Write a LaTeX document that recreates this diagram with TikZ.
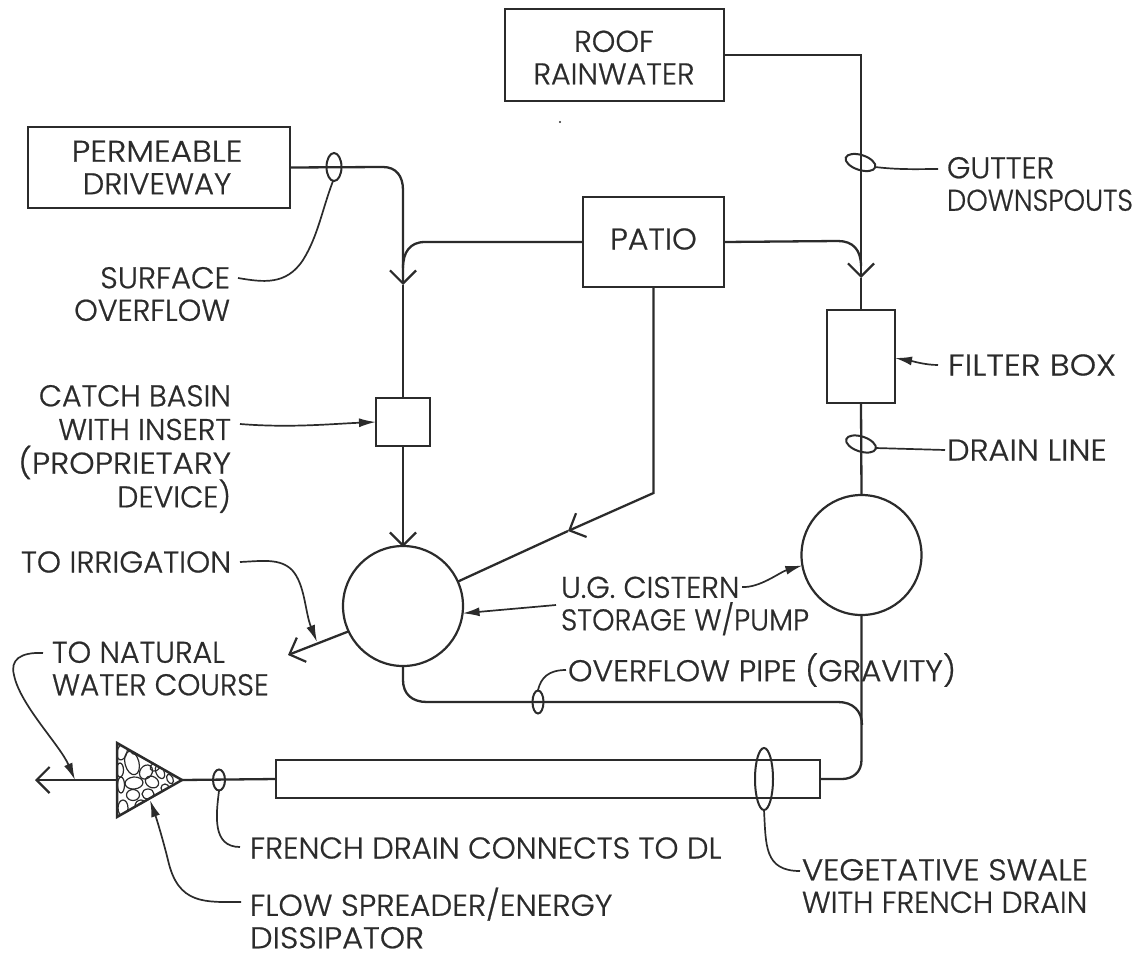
\documentclass[tikz,border=0pt]{standalone}
\usepackage{fontspec}
\usepackage{graphicx}
\setmainfont{Poppins Light}[BoldFont=*,BoldFeatures={FakeBold=0.7}]
\usetikzlibrary{arrows.meta}
\definecolor{ink}{HTML}{2B2B2B}
\newcommand{\sx}[2]{\scalebox{#1}[1]{#2}}
\tikzset{
  x=1pt,y=-1pt,
  every node/.style={inner sep=0pt,outer sep=0pt,text=ink},
  boxnode/.style={draw=ink,line width=2.3pt,rectangle},
  tank/.style={draw=ink,line width=2.2pt,circle,minimum size=120pt},
  pipe/.style={draw=ink,line width=2.3pt},
  thin pipe/.style={draw=ink,line width=1.8pt},
  leader/.style={draw=ink,line width=1.7pt},
  oval/.style={draw=ink,line width=2pt},
  opentip/.style={-{Straight Barb[length=13pt,width=26pt,line width=2.2pt]}},
  solidtip/.style={-{Latex[length=17pt,width=9pt]}},
  txt/.style={font=\fontsize{30}{32.5}\selectfont\bfseries},
  lbl/.style={txt,align=left,anchor=west},
  lblr/.style={txt,align=right,anchor=east},
  lblc/.style={txt,align=center},
}
\begin{document}
\begin{tikzpicture}
\useasboundingbox (0,0) rectangle (1143,961);
% boxes
\node[boxnode,minimum width=219pt,minimum height=92pt] (roof) at (614.5,55) {};
\node[boxnode,minimum width=262pt,minimum height=81pt] (perm) at (159,167.5) {};
\node[boxnode,minimum width=141pt,minimum height=90pt] (patio) at (653.5,242) {};
\node[boxnode,minimum width=68pt,minimum height=93pt] (filter) at (861,356.5) {};
\node[boxnode,minimum width=54pt,minimum height=48pt] (catch) at (403,422) {};
\node[boxnode,minimum width=544pt,minimum height=38pt] (swale) at (548,779) {};
\node[tank] (cisL) at (403,606) {};
\node[tank] (cisR) at (861.5,555) {};
% box texts
\node[lblc] (troof) at (614,57.5) {ROOF\\RAINWATER};
\node[lblc] (tperm) at (157,167.5) {\sx{1.1}{PERMEABLE}\\\sx{1.02}{DRIVEWAY}};
\node[lblc] (tpatio) at (653.5,239) {\sx{1.05}{PATIO}};
% junction coordinates
\coordinate (jL) at (403,285);
\coordinate (jR) at (861,278);
\coordinate (jD) at (568,531);
\coordinate (irr) at (288,655);
\coordinate (spreadL) at (117,780);
\coordinate (spreadT) at (117,743);
\coordinate (spreadB) at (117,817);
\coordinate (spreadR) at (182,780);
\coordinate (outlet) at (35,780);
\coordinate (ovfl) at (862,725);
% pipes
\draw[pipe,opentip] (perm.east) -- (383,167) .. controls (396,167) and (403,176) .. (403,190) -- (jL);
\draw[pipe] (jL) -- (catch.north);
\draw[pipe] (patio.west) -- (425,242) .. controls (410,242) and (403,252) .. (403,268);
\draw[thin pipe,opentip] (catch.south) -- (403,547);
\draw[pipe,opentip] (roof.east |- 0,55) -- (861,55) -- (jR);
\draw[pipe] (jR) -- (filter.north);
\draw[pipe] (patio.east) -- (838,241) .. controls (853,241) and (861,250) .. (861,266);
\draw[pipe] (filter.south) -- (cisR.north);
\draw[pipe,opentip] (patio.south) -- (653.5,493) -- (jD);
\draw[pipe] (jD) -- (cisL.24);
\draw[pipe,opentip] (cisL.205) -- (irr);
\draw[pipe] (cisL.south) -- (403,680) .. controls (403,694) and (412,702) .. (427,702) -- (838,702) .. controls (853,702) and (862,711) .. (ovfl);
\draw[pipe] (cisR.south) -- (861.5,760) .. controls (861.5,772) and (853,779) .. (842,779) -- (swale.east);
% spreader
\begin{scope}
\clip (spreadT) -- (spreadR) -- (spreadB) -- cycle;
\foreach \cx/\cy/\rx/\ry/\rot in {132/763/7/12/15, 146/772/6/7.5/-35, 134/783/9/6/5, 152/782/7/5.5/-30, 133/795/6.5/5.5/0, 148/794/6/5/0, 123/808/5/8/0, 122/752/5/8/-15, 120/770/3.5/7/0, 121/785/3.5/8/0, 160/772/4/7/25, 170/779/3/5/25, 165/788/4/4/0, 141/806/6/6/0, 155/767/5/4/25, 138/748/8/6/30}
  \draw[ink,line width=1.2pt,rotate around={\rot:(\cx,\cy)}] (\cx,\cy) ellipse [x radius=\rx,y radius=\ry];
\end{scope}
\draw[pipe,line width=2.5pt,line join=miter] (spreadT) -- (spreadR) -- (spreadB) -- cycle;
\draw[pipe,opentip] (spreadL) -- (outlet);
\draw[pipe] (spreadR) -- (swale.west);
% ovals
\draw[oval] (334,167) ellipse [x radius=7.5,y radius=14];
\draw[oval,rotate around={-18:(860.5,162.5)}] (860.5,162.5) ellipse [x radius=15.5,y radius=7.5];
\draw[oval,rotate around={-18:(861,444)}] (861,444) ellipse [x radius=15.5,y radius=7.5];
\draw[oval] (538,702) ellipse [x radius=5.5,y radius=11.5];
\draw[oval] (219,780) ellipse [x radius=6,y radius=10.5];
\draw[oval] (764,779) ellipse [x radius=9,y radius=31];
\fill[ink] (560,122) circle (1.2);
% labels
\node[lbl] (tgutter) at (947,184) {GUTTER\\\sx{0.91}{DOWNSPOUTS}};
\node[lbl] (tfilter) at (948,365) {\sx{1.12}{FILTER BOX}};
\node[lbl] (tdrain) at (947,450) {\sx{1.07}{DRAIN LINE}};
\node[lblr] (tsurf) at (230,294) {\sx{1.02}{SURFACE}\\OVERFLOW};
\node[lblr,font=\fontsize{30}{33.7}\selectfont\bfseries] (tcatch) at (231,449) {CATCH BASIN\\WITH INSERT\\\sx{1.08}{(PROPRIETARY}\\DEVICE)};
\node[lbl] (tirr) at (21,562) {\sx{1.02}{TO IRRIGATION}};
\node[lbl] (tnat) at (52,668.5) {TO NATURAL\\\sx{0.98}{WATER COURSE}};
\node[lbl] (tcis) at (561,606) {U.G. CISTERN\\\sx{0.95}{STORAGE W/PUMP}};
\node[lbl] (tovf) at (568,670) {\sx{1.04}{OVERFLOW PIPE (GRAVITY)}};
\node[lbl] (tfrench) at (250,848) {\sx{1.02}{FRENCH DRAIN CONNECTS TO DL}};
\node[lbl] (tveg) at (802,886) {\sx{1.07}{VEGETATIVE SWALE}\\WITH FRENCH DRAIN};
\node[lbl] (tflow) at (250,918) {\sx{1.035}{FLOW SPREADER/ENERGY}\\\sx{1.07}{DISSIPATOR}};
% leaders
\draw[leader] (238,278) .. controls (262,282) and (286,286) .. (303,260) .. controls (318,236) and (322,210) .. (333,181);
\draw[leader] (875,167) .. controls (900,170) and (920,169) .. (938,169);
\draw[leader,solidtip] (938,365) .. controls (925,365) and (912,361) .. (filter.east |- 0,358);
\draw[leader] (875,448) -- (945,450);
\draw[leader,solidtip] (240,424) .. controls (290,428) and (330,424) .. (catch.west);
\draw[leader,solidtip] (240,562) .. controls (262,561) and (280,558) .. (292,570) .. controls (305,584) and (305,612) .. (317,642);
\draw[leader,solidtip] (43,653) .. controls (20,652) and (10,660) .. (14,675) .. controls (20,705) and (60,745) .. (75,780);
\draw[leader,solidtip] (556,605) -- (cisL.-7);
\draw[leader,solidtip] (742,587) .. controls (760,588) and (780,572) .. (cisR.190);
\draw[leader] (538,690) .. controls (541,678) and (548,670) .. (566,670);
\draw[leader] (219,791) .. controls (216,815) and (212,847) .. (240,847);
\draw[leader] (764,810) .. controls (766,845) and (764,871) .. (800,871);
\draw[leader,solidtip] (241,902) .. controls (205,902) and (178,905) .. (168,860) .. controls (163,840) and (157,820) .. (150,800);
\end{tikzpicture}
\end{document}
